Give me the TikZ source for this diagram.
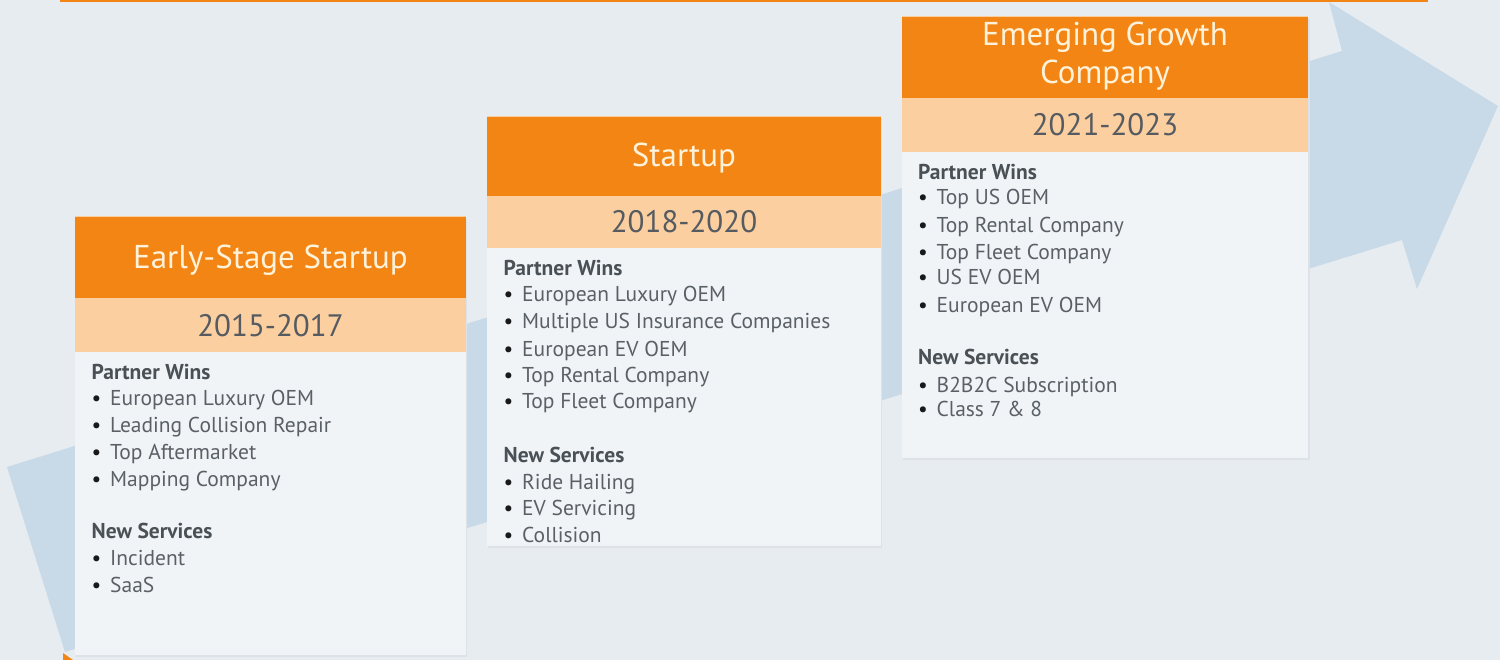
\documentclass[tikz,border=0pt]{standalone}
\usepackage{fontspec}
\setmainfont{PT Sans}
\begin{document}
\definecolor{bg}{HTML}{E7ECF0}
\definecolor{bandblue}{HTML}{C8D9E7}
\definecolor{orng}{HTML}{F28513}
\definecolor{peach}{HTML}{FBCFA0}
\definecolor{cardbody}{HTML}{F0F4F7}
\definecolor{cardshadow}{HTML}{DCE2E7}
\definecolor{titletxt}{HTML}{FFF2DA}
\definecolor{yeartxt}{HTML}{555B60}
\definecolor{itemtxt}{HTML}{5A6166}
\definecolor{headtxt}{HTML}{4A5156}
\begin{tikzpicture}[x=1pt,y=-1pt,
  header/.style={rectangle,fill=orng,inner sep=0,anchor=north west},
  yearband/.style={rectangle,fill=peach,inner sep=0,anchor=north west},
  cardbox/.style={rectangle,fill=cardbody,inner sep=0,anchor=north west},
  titletext/.style={text=titletxt,font=\fontsize{33}{38}\selectfont,align=center,inner sep=0},
  yeartext/.style={text=yeartxt,font=\fontsize{31}{38}\selectfont,inner sep=0,anchor=base},
  listhead/.style={text=headtxt,font=\fontsize{21.5}{24}\selectfont\bfseries,inner sep=0,anchor=base west},
  listitem/.style={text=itemtxt,font=\fontsize{21.5}{24}\selectfont,inner sep=0,anchor=base west}]
\newcommand{\bul}{\makebox[18.5pt][l]{\textcolor{black!90}{\textbullet}}}
\useasboundingbox (0,0) rectangle (1500,660);
\fill[bg] (0,0) rectangle (1500,660);

% top rule and corner accent
\draw[orng,line width=2.2pt] (60,0.9) -- (1428,0.9);
\fill[orng] (63,653) -- (73,660) -- (63,660) -- cycle;

% growth arrow behind the cards
\fill[bandblue] (7,467) -- (1342,51) -- (1329,2) -- (1498,106) -- (1417,289)
  -- (1402,240) -- (65,652) -- cycle;

% ---------- card 1 ----------
\fill[cardshadow] (76,219) rectangle (467,657);
\node[cardbox,minimum width=391pt,minimum height=303pt] (b1) at (75,352) {};
\node[yearband,minimum width=391pt,minimum height=54pt] (y1) at (75,298) {};
\node[header,minimum width=391pt,minimum height=81pt] (h1) at (75,217) {};
\draw[peach,line width=1pt] (h1.north west) -- (h1.north east);
\node[yeartext] (y1t) at (270.5,337) {2015-2017};
\node[titletext,anchor=base] (h1t) at (270.5,269) {Early-Stage Startup};
\node[listhead] (p1) at (91.5,380) {Partner Wins};
\node[listitem] (p1a) at (91.5,405.5) {\bul European Luxury OEM};
\node[listitem] (p1b) at (91.5,432.5) {\bul Leading Collision Repair};
\node[listitem] (p1c) at (91.5,459.5) {\bul Top Aftermarket};
\node[listitem] (p1d) at (91.5,486) {\bul Mapping Company};
\node[listhead] (s1) at (91.5,538) {New Services};
\node[listitem] (s1a) at (91.5,565.5) {\bul Incident};
\node[listitem] (s1b) at (91.5,592.5) {\bul SaaS};

% ---------- card 2 ----------
\fill[cardshadow] (488,119) rectangle (882,548);
\node[cardbox,minimum width=394pt,minimum height=298pt] (b2) at (487,248) {};
\node[yearband,minimum width=394pt,minimum height=52pt] (y2) at (487,196) {};
\node[header,minimum width=394pt,minimum height=79pt] (h2) at (487,117) {};
\draw[peach,line width=1pt] (h2.north west) -- (h2.north east);
\node[yeartext] (y2t) at (684,233) {2018-2020};
\node[titletext,anchor=base] (h2t) at (684,167) {Startup};
\node[listhead] (p2) at (503.5,276) {Partner Wins};
\node[listitem] (p2a) at (503.5,302) {\bul European Luxury OEM};
\node[listitem] (p2b) at (503.5,329) {\bul Multiple US Insurance Companies};
\node[listitem] (p2c) at (503.5,356) {\bul European EV OEM};
\node[listitem] (p2d) at (503.5,383) {\bul Top Rental Company};
\node[listitem] (p2e) at (503.5,409) {\bul Top Fleet Company};
\node[listhead] (s2) at (503.5,462) {New Services};
\node[listitem] (s2a) at (503.5,489) {\bul Ride Hailing};
\node[listitem] (s2b) at (503.5,515) {\bul EV Servicing};
\node[listitem] (s2c) at (503.5,542) {\bul Collision};

% ---------- card 3 ----------
\fill[cardshadow] (903,19) rectangle (1310,460);
\node[cardbox,minimum width=406pt,minimum height=306pt] (b3) at (902,152) {};
\node[yearband,minimum width=406pt,minimum height=54pt] (y3) at (902,98) {};
\node[header,minimum width=406pt,minimum height=81pt] (h3) at (902,17) {};
\draw[peach,line width=1pt] (h3.north west) -- (h3.north east);
\node[yeartext] (y3t) at (1105,136) {2021-2023};
\node[titletext,anchor=base] (h3t) at (1105,46) {Emerging Growth};
\node[titletext,anchor=base] (h3u) at (1105,84) {Company};
\node[listhead] (p3) at (918,180) {Partner Wins};
\node[listitem] (p3a) at (918,205) {\bul Top US OEM};
\node[listitem] (p3b) at (918,233) {\bul Top Rental Company};
\node[listitem] (p3c) at (918,260) {\bul Top Fleet Company};
\node[listitem] (p3d) at (918,285) {\bul US EV OEM};
\node[listitem] (p3e) at (918,313) {\bul European EV OEM};
\node[listhead] (s3) at (918,365) {New Services};
\node[listitem] (s3a) at (918,392) {\bul B2B2C Subscription};
\node[listitem] (s3b) at (918,417) {\bul Class 7 \& 8};
\end{tikzpicture}
\end{document}
